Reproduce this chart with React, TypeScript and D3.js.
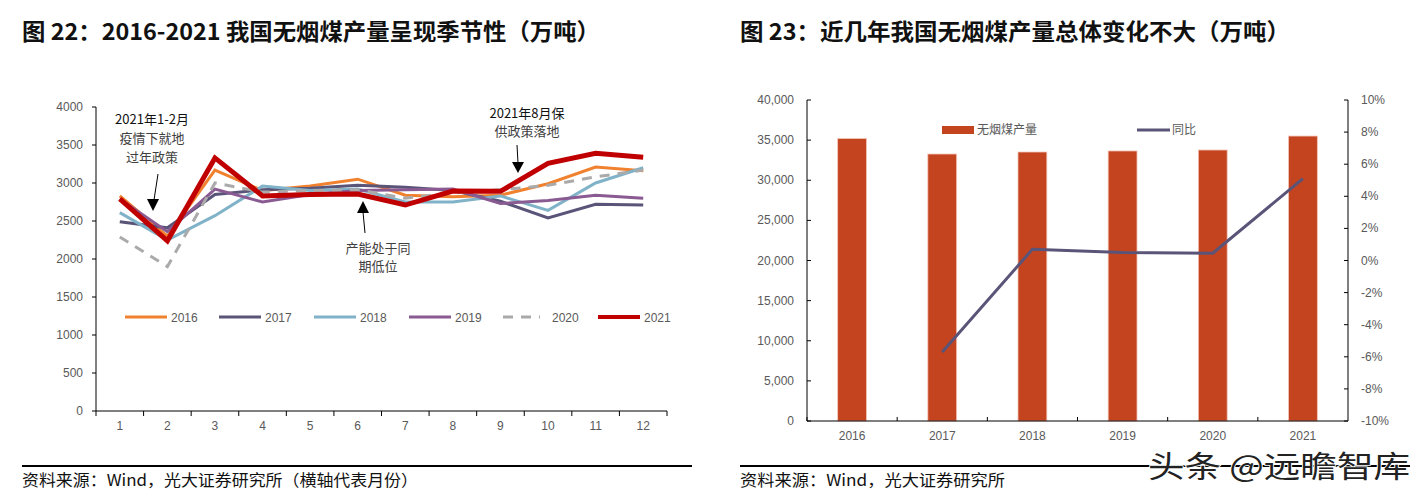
import React from "react";
import * as d3 from "d3";

const months = ["1","2","3","4","5","6","7","8","9","10","11","12"];
const v2016 = [2830, 2300, 3170, 2900, 2960, 3050, 2840, 2820, 2840, 2990, 3210, 3160];
const v2017 = [2490, 2410, 2850, 2910, 2930, 2970, 2945, 2900, 2760, 2540, 2720, 2710];
const v2018 = [2610, 2250, 2570, 2960, 2900, 2920, 2750, 2750, 2830, 2640, 3000, 3200];
const v2019 = [2790, 2360, 2920, 2750, 2850, 2900, 2910, 2920, 2730, 2770, 2840, 2800];
const v2020 = [2290, 1900, 3000, 2880, 2900, 2910, 2800, 2870, 2910, 2970, 3080, 3170];
const v2021 = [2790, 2240, 3330, 2830, 2850, 2855, 2710, 2895, 2890, 3260, 3390, 3340];
const leftTicks = [0, 500, 1000, 1500, 2000, 2500, 3000, 3500, 4000];

const years = ["2016","2017","2018","2019","2020","2021"];
const output = [35200, 33270, 33520, 33650, 33770, 35510];
const yoy = [null, -5.7, 0.7, 0.5, 0.45, 5.1];
const rightTicks = [0, 5000, 10000, 15000, 20000, 25000, 30000, 35000, 40000];
const pctTicks = [-10, -8, -6, -4, -2, 0, 2, 4, 6, 8, 10];

const seriesDefs = [
  { name: "2016", data: v2016, color: "#f0812f", width: 3, dash: null },
  { name: "2017", data: v2017, color: "#5a5478", width: 3, dash: null },
  { name: "2018", data: v2018, color: "#80b2c8", width: 3, dash: null },
  { name: "2019", data: v2019, color: "#8a5a92", width: 3, dash: null },
  { name: "2020", data: v2020, color: "#aaaaaa", width: 3, dash: "10,8" },
  { name: "2021", data: v2021, color: "#c00000", width: 5, dash: null },
];

const SANS = "'Liberation Sans', Arial, sans-serif";
const CJK = "'Noto Sans CJK SC', 'Noto Sans', sans-serif";

export default function App() {
  const xL = d3.scaleBand<string>().domain(months).range([96, 667]);
  const yL = d3.scaleLinear().domain([0, 4000]).range([411, 107]);
  const cx = (m: string) => (xL(m) as number) + xL.bandwidth() / 2;
  const line = d3
    .line<number>()
    .x((_, i) => cx(months[i]))
    .y((d) => yL(d));

  const xR = d3.scaleBand<string>().domain(years).range([807, 1348]).paddingInner(0.68).paddingOuter(0.34);
  const yR = d3.scaleLinear().domain([0, 40000]).range([421, 100]);
  const yP = d3.scaleLinear().domain([-10, 10]).range([421, 100]);
  const step = xR.step();
  const rcx = (y: string) => (xR(y) as number) + xR.bandwidth() / 2;
  const yoyLine = d3
    .line<number | null>()
    .defined((d) => d !== null)
    .x((_, i) => rcx(years[i]))
    .y((d) => yP(d as number));

  const fmt = d3.format(",");
  const legendX = [125, 219, 314, 409, 503, 598];

  return (
    <svg width={1423} height={502} style={{ position: "absolute", left: 0, top: 0, background: "#fff" }}>
      <text x={22} y={40} fontFamily={CJK} fontWeight={700} fontSize={23} fill="#111" textLength={578} lengthAdjust="spacingAndGlyphs">图 22：2016-2021 我国无烟煤产量呈现季节性（万吨）</text>
      <text x={740} y={40} fontFamily={CJK} fontWeight={700} fontSize={23} fill="#111" textLength={550} lengthAdjust="spacingAndGlyphs">图 23：近几年我国无烟煤产量总体变化不大（万吨）</text>

      {/* LEFT CHART */}
      <g>
        <line x1={96} x2={96} y1={107} y2={411} stroke="#000" strokeWidth={1} />
        <line x1={96} x2={667} y1={411} y2={411} stroke="#000" strokeWidth={1} />
        {leftTicks.map((t) => (
          <g key={t}>
            <line x1={92} x2={96} y1={yL(t)} y2={yL(t)} stroke="#000" />
            <text x={83} y={yL(t) + 4} textAnchor="end" fontFamily={SANS} fontSize={12} fill="#595959">{t}</text>
          </g>
        ))}
        {months.map((m, i) => (
          <g key={m}>
            <line x1={(xL(m) as number)} x2={(xL(m) as number)} y1={411} y2={416} stroke="#000" />
            {i === months.length - 1 && <line x1={667} x2={667} y1={411} y2={416} stroke="#000" />}
            <text x={cx(m)} y={430} textAnchor="middle" fontFamily={SANS} fontSize={12} fill="#595959">{m}</text>
          </g>
        ))}
        {seriesDefs.map((s) => (
          <path key={s.name} d={line(s.data) as string} fill="none" stroke={s.color} strokeWidth={s.width}
            strokeDasharray={s.dash ?? undefined} strokeLinejoin="miter" />
        ))}
        {seriesDefs.map((s, i) => (
          <g key={"lg" + s.name}>
            <line x1={legendX[i]} x2={legendX[i] + (s.dash ? 37 : 42)} y1={317} y2={317} stroke={s.color}
              strokeWidth={s.width === 5 ? 4 : 3} strokeDasharray={s.dash ?? undefined} />
            <text x={legendX[i] + (s.dash ? 49 : 46)} y={321.5} fontFamily={SANS} fontSize={12} fill="#595959">{s.name}</text>
          </g>
        ))}
        <g fontFamily={CJK} fontSize={13} textAnchor="middle">
          <text x={152} y={124} fill="#111">2021年1-2月</text>
          <text x={152} y={143} fill="#404040">疫情下就地</text>
          <text x={152} y={162} fill="#404040">过年政策</text>
          <text x={527} y={118} fill="#111">2021年8月保</text>
          <text x={527} y={136} fill="#404040">供政策落地</text>
          <text x={378} y={253} fill="#404040">产能处于同</text>
          <text x={378} y={271} fill="#404040">期低位</text>
        </g>
        <line x1={158} x2={154} y1={174} y2={200} stroke="#000" strokeWidth={1} />
        <path d="M147,199 L153,211 L159,199 Z" fill="#000" />
        <line x1={517} x2={518} y1={145} y2={163} stroke="#000" strokeWidth={1} />
        <path d="M512,162 L518,173 L524,162 Z" fill="#000" />
        <line x1={365} x2={363} y1={233} y2={212} stroke="#000" strokeWidth={1} />
        <path d="M357,213 L363,201 L369,213 Z" fill="#000" />
      </g>

      {/* RIGHT CHART */}
      <g>
        {output.map((v, i) => (
          <rect key={years[i]} x={xR(years[i]) as number} y={yR(v)} width={xR.bandwidth()} height={421 - yR(v)}
            fill="#c4441f" stroke="#f3c7bb" strokeWidth={0.8} />
        ))}
        <path d={yoyLine(yoy) as string} fill="none" stroke="#5a5478" strokeWidth={3} />
        <line x1={807} x2={807} y1={100} y2={421} stroke="#000" />
        <line x1={1348} x2={1348} y1={100} y2={421} stroke="#000" />
        <line x1={807} x2={1348} y1={421} y2={421} stroke="#000" />
        {rightTicks.map((t) => (
          <g key={t}>
            <line x1={807} x2={811} y1={yR(t)} y2={yR(t)} stroke="#000" />
            <text x={794} y={yR(t) + 4} textAnchor="end" fontFamily={SANS} fontSize={12} fill="#595959">{fmt(t)}</text>
          </g>
        ))}
        {pctTicks.map((t) => (
          <g key={t}>
            <line x1={1344} x2={1348} y1={yP(t)} y2={yP(t)} stroke="#000" />
            <text x={1361} y={yP(t) + 4} textAnchor="start" fontFamily={SANS} fontSize={12} fill="#595959">{t + "%"}</text>
          </g>
        ))}
        {years.map((y, i) => (
          <g key={"xt" + y}>
            <line x1={807 + step * i} x2={807 + step * i} y1={421} y2={417} stroke="#000" />
            <text x={rcx(y)} y={440} textAnchor="middle" fontFamily={SANS} fontSize={12} fill="#595959">{y}</text>
          </g>
        ))}
        <rect x={942} y={126} width={32} height={8} fill="#c4441f" />
        <text x={977} y={134} fontFamily={CJK} fontSize={12} fill="#595959">无烟煤产量</text>
        <line x1={1137} x2={1170} y1={130} y2={130} stroke="#5a5478" strokeWidth={3} />
        <text x={1172} y={134} fontFamily={CJK} fontSize={12} fill="#595959">同比</text>
      </g>

      {/* Footers */}
      <line x1={22} x2={692} y1={466} y2={466} stroke="#000" strokeWidth={2} />
      <line x1={740} x2={1410} y1={466} y2={466} stroke="#000" strokeWidth={2} />
      <text x={22} y={486} fontFamily={CJK} fontSize={16} fill="#111" textLength={396} lengthAdjust="spacingAndGlyphs">资料来源：Wind，光大证券研究所（横轴代表月份）</text>
      <text x={740} y={486} fontFamily={CJK} fontSize={16} fill="#111" textLength={265} lengthAdjust="spacingAndGlyphs">资料来源：Wind，光大证券研究所</text>

      <text x={1148} y={477} fontFamily={CJK} fontSize={30} fill="#222" stroke="#fff" strokeWidth={1.5}
        paintOrder="stroke" textLength={262} lengthAdjust="spacingAndGlyphs">头条 @远瞻智库</text>
    </svg>
  );
}
